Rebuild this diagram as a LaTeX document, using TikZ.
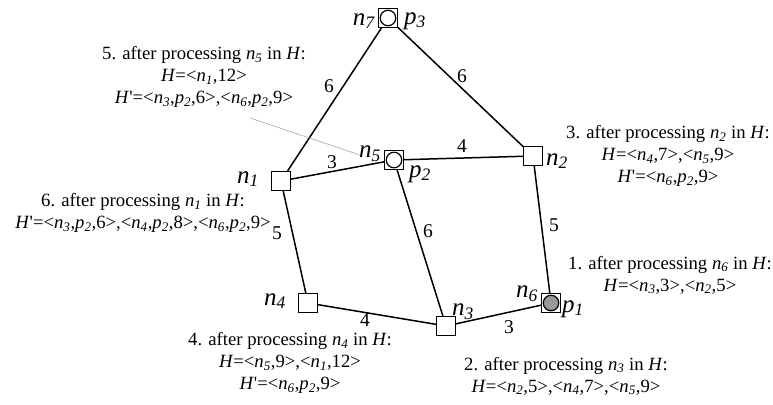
\documentclass[tikz,border=0pt]{standalone}
\usepackage{fontspec}
\setmainfont{Liberation Serif}
\newcommand\nsb[1]{\textit{n}\textsubscript{\textit{#1}}}
\newcommand\psb[1]{\textit{p}\textsubscript{\textit{#1}}}
\newcommand\hh{\textit{H}}
\newcommand\hp{\textit{H}\textquotesingle}
\begin{document}
\begin{tikzpicture}[x=1pt,y=-1pt,
  nd/.style={draw, line width=1.4pt, fill=white, minimum size=18.5pt, inner sep=0pt},
  cir/.style={circle, draw, line width=1.2pt, fill=white, minimum size=15.5pt, inner sep=0pt},
  gcir/.style={cir, fill=gray!80},
  ed/.style={line width=1.5pt},
  lab/.style={font=\fontsize{19.5}{19.5}\selectfont, inner sep=0pt},
  nl/.style={font=\fontsize{25}{25}\selectfont, inner sep=0pt},
  txt/.style={font=\fontsize{18.7}{22}\selectfont, align=center, inner sep=0pt}]
\useasboundingbox (0,0) rectangle (773,404);
% nodes
\node[nd] (n7) at (388,18) {};
\node[nd] (n1) at (281,181) {};
\node[nd] (n5) at (394,160) {};
\node[nd] (n2) at (533,156) {};
\node[nd] (n4) at (308,303) {};
\node[nd] (n3) at (446,326) {};
\node[nd] (n6) at (551,303) {};
\node[cir] (c7) at (n7) {};
\node[cir] (c5) at (n5) {};
\node[gcir] (c6) at (n6) {};
% edges
\draw[ed] (n7) -- (n1);
\draw[ed] (n7) -- (n2);
\draw[ed] (n1) -- (n5);
\draw[ed] (n5) -- (n2);
\draw[ed] (n2) -- (n6);
\draw[ed] (n5) -- (n3);
\draw[ed] (n1) -- (n4);
\draw[ed] (n4) -- (n3);
\draw[ed] (n3) -- (n6);
% edge labels
\node[lab] (w71) at (329,86) {6};
\node[lab] (w72) at (462,76) {6};
\node[lab] (w15) at (332,162) {3};
\node[lab] (w52) at (462,146) {4};
\node[lab] (w26) at (554,225) {5};
\node[lab] (w53) at (428,231) {6};
\node[lab] (w14) at (277,233) {5};
\node[lab] (w43) at (365,320) {4};
\node[lab] (w36) at (509,327) {3};
% node labels
\node[nl] (l7) at (364,21) {\nsb{7}};
\node[nl] (q3) at (415,21) {\psb{3}};
\node[nl] (l5) at (370,154) {\nsb{5}};
\node[nl] (q2) at (420,174) {\psb{2}};
\node[nl] (l1) at (248,179) {\nsb{1}};
\node[nl] (l2) at (557,161) {\nsb{2}};
\node[nl] (l4) at (275,301) {\nsb{4}};
\node[nl] (l3) at (463,312) {\nsb{3}};
\node[nl] (l6) at (527,294) {\nsb{6}};
\node[nl] (q1) at (573,309) {\psb{1}};
% pointer
\coordinate (pt) at (250,118);
\draw[gray!70, line width=0.6pt] (pt) -- (360,155);
% texts
\node[txt] (t5) at (204,77) {5. after processing \nsb{5} in \hh:\\ \hh=<\nsb{1},12>\\ \hp=<\nsb{3},\psb{2},6>,<\nsb{6},\psb{2},9>};
\node[txt] (t3) at (668,156) {3. after processing \nsb{2} in \hh:\\ \hh=<\nsb{4},7>,<\nsb{5},9>\\ \hp=<\nsb{6},\psb{2},9>};
\node[txt] (t6) at (143,213) {6. after processing \nsb{1} in \hh:\\ \hp=<\nsb{3},\psb{2},6>,<\nsb{4},\psb{2},8>,<\nsb{6},\psb{2},9>};
\node[txt] (t1) at (670,275) {1. after processing \nsb{6} in \hh:\\ \hh=<\nsb{3},3>,<\nsb{2},5>};
\node[txt] (t2) at (566,376) {2. after processing \nsb{3} in \hh:\\ \hh=<\nsb{2},5>,<\nsb{4},7>,<\nsb{5},9>};
\node[txt] (t4) at (290,363) {4. after processing \nsb{4} in \hh:\\ \hh=<\nsb{5},9>,<\nsb{1},12>\\ \hp=<\nsb{6},\psb{2},9>};
\end{tikzpicture}
\end{document}
